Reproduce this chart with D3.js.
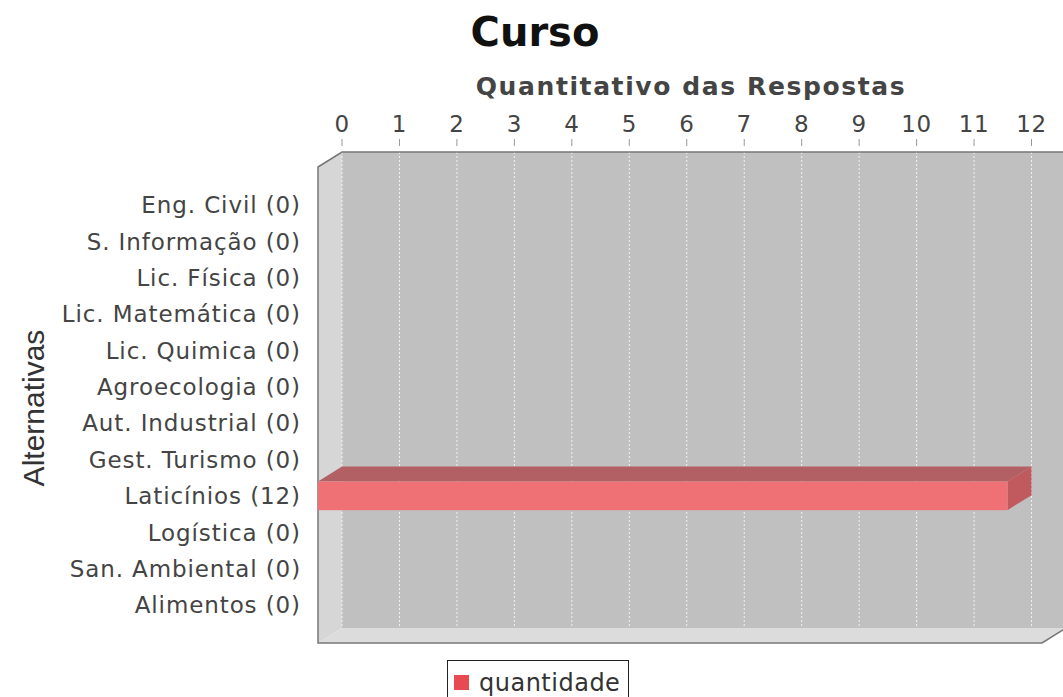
<!DOCTYPE html>
<html><head><meta charset="utf-8">
<script src="https://cdn.jsdelivr.net/npm/d3@7"></script>
<style>html,body{margin:0;padding:0;background:#fff;overflow:hidden}</style>
</head><body>
<svg id="c" width="1063" height="697"></svg>
<script>
const title = "Curso";
const valueAxisLabel = "Quantitativo das Respostas";
const categoryAxisLabel = "Alternativas";
const seriesName = "quantidade";
const categories = ["Eng. Civil","S. Informação","Lic. Física","Lic. Matemática","Lic. Quimica","Agroecologia","Aut. Industrial","Gest. Turismo","Laticínios","Logística","San. Ambiental","Alimentos"];
const values = [0,0,0,0,0,0,0,0,12,0,0,0];
const ticks = [0,1,2,3,4,5,6,7,8,9,10,11,12];
const domainMax = 12.6;

(function(){
const svg = d3.select("#c");
// plot geometry (front face + 3D offset)
const pL = 318, pR = 1042, pT = 167, pB = 643;
const dx = 24, dy = 15;

const xf = d3.scaleLinear().domain([0, domainMax]).range([pL, pR]);
const xb = v => xf(v) + dx;
const h = pB - pT;
const y = d3.scaleBand().domain(categories)
  .range([pT + h*0.05, pB - h*0.05])
  .paddingInner(0.2143).paddingOuter(0);

// walls
svg.append("polygon").attr("points",[[pL,pT],[pL+dx,pT-dy],[pL+dx,pB-dy],[pL,pB]].join(" "))
  .attr("fill","#d6d6d6");
svg.append("polygon").attr("points",[[pL,pB],[pL+dx,pB-dy],[pR+dx,pB-dy],[pR,pB]].join(" "))
  .attr("fill","#dcdcdc");
svg.append("rect").attr("x",pL+dx).attr("y",pT-dy).attr("width",pR-pL).attr("height",h)
  .attr("fill","#c0c0c0");

// gridlines
svg.append("g").selectAll("line").data(ticks).join("line")
  .attr("x1",d=>xb(d)).attr("x2",d=>xb(d)).attr("y1",pT-dy).attr("y2",pB-dy)
  .attr("stroke","#f2f2f2").attr("stroke-width",1).attr("stroke-dasharray","2,2");

// outline
svg.append("polygon").attr("points",[[pL,pT],[pL+dx,pT-dy],[pR+dx,pT-dy],[pR+dx,pB-dy],[pR,pB],[pL,pB]].join(" "))
  .attr("fill","none").attr("stroke","#777").attr("stroke-width",1.5);

// bars
const bars = svg.append("g");
categories.forEach((c,i)=>{
  const v = values[i];
  if (!v) return;
  const y0 = y(c), y1 = y(c)+y.bandwidth();
  const x0 = xf(0), x1 = xf(v);
  bars.append("polygon").attr("points",[[x0,y0],[x0+dx,y0-dy],[x1+dx,y0-dy],[x1,y0]].join(" ")).attr("fill","#b36064");
  bars.append("polygon").attr("points",[[x1,y0],[x1+dx,y0-dy],[x1+dx,y1-dy],[x1,y1]].join(" ")).attr("fill","#c05a5f");
  bars.append("rect").attr("x",x0).attr("y",y0).attr("width",x1-x0).attr("height",y1-y0).attr("fill","#ef7075");
});

// value axis (top)
const axis = svg.append("g");
axis.selectAll("line").data(ticks).join("line")
  .attr("x1",d=>xb(d)).attr("x2",d=>xb(d)).attr("y1",139).attr("y2",146)
  .attr("stroke","#999").attr("stroke-width",1);
axis.selectAll("text").data(ticks).join("text")
  .attr("x",d=>xb(d)).attr("y",132).attr("text-anchor","middle")
  .attr("font-family","DejaVu Sans").attr("font-size",23).attr("fill","#444")
  .attr("letter-spacing",0.6)
  .text(d=>d);

svg.append("text").attr("x",691).attr("y",95).attr("text-anchor","middle")
  .attr("font-family","DejaVu Sans").attr("font-weight","bold").attr("font-size",25).attr("fill","#444")
  .attr("letter-spacing",1.6)
  .text(valueAxisLabel);

// category labels
svg.append("g").selectAll("text").data(categories).join("text")
  .attr("x",301).attr("y",c=>y(c)+y.bandwidth()/2).attr("dy","0.36em").attr("text-anchor","end")
  .attr("font-family","DejaVu Sans").attr("font-size",23).attr("fill","#444")
  .attr("letter-spacing",0.9)
  .text((c,i)=>`${c} (${values[i]})`);

svg.append("text").attr("transform","translate(44,408) rotate(-90)").attr("text-anchor","middle")
  .attr("font-family","Liberation Sans").attr("font-size",30).attr("fill","#333")
  .text(categoryAxisLabel);

// title
svg.append("text").attr("x",535).attr("y",46).attr("text-anchor","middle")
  .attr("font-family","DejaVu Sans").attr("font-weight","bold").attr("font-size",40).attr("fill","#111")
  .text(title);

// legend
const lg = svg.append("g");
lg.append("rect").attr("x",447.5).attr("y",660.5).attr("width",181).attr("height",45).attr("fill","#fff").attr("stroke","#222");
lg.append("rect").attr("x",454).attr("y",675).attr("width",15).attr("height",15).attr("fill","#e84a52");
lg.append("text").attr("x",479).attr("y",691).attr("font-family","DejaVu Sans").attr("font-size",24).attr("fill","#333")
  .attr("letter-spacing",0.5).text(seriesName);
})();
</script>
</body></html>
